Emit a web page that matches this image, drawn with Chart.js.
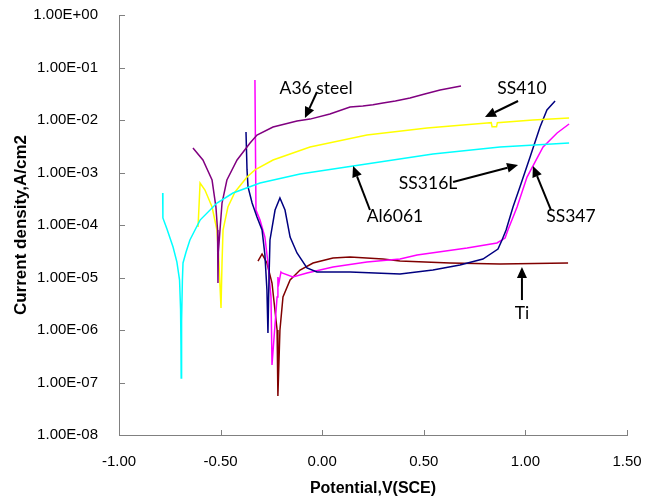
<!DOCTYPE html>
<html>
<head>
<meta charset="utf-8">
<script src="https://cdn.jsdelivr.net/npm/chart.js@4.4.1/dist/chart.umd.min.js"></script>
<style>
  body { margin: 0; background: #fff; }
  #grafico { display: block; }
</style>
</head>
<body>
<canvas id="grafico" width="646" height="500"></canvas>
<script>
// Ejes
const xTicks = [-1, -0.5, 0, 0.5, 1, 1.5];
const yTicks = [1e-8, 1e-7, 1e-6, 1e-5, 1e-4, 1e-3, 1e-2, 1e-1, 1];

// Curvas de polarizacion: potencial (V vs SCE) y densidad de corriente (A/cm2)
const al6061V = [-0.785, -0.784, -0.764, -0.734, -0.715, -0.702, -0.697, -0.695, -0.694, -0.692, -0.688, -0.685, -0.670, -0.651, -0.626, -0.601, -0.518, -0.439, -0.306, -0.109, 0.152, 0.545, 0.875, 1.215];
const al6061I = [4.07e-4, 1.36e-4, 8.4e-5, 3.81e-5, 1.97e-5, 8.95e-6, 2.5e-6, 5.0e-7, 1.22e-7, 1.5e-6, 8.95e-6, 1.89e-5, 3.06e-5, 5.18e-5, 8.04e-5, 1.24e-4, 2.62e-4, 4.07e-4, 6.31e-4, 9.35e-4, 1.33e-3, 2.25e-3, 3.06e-3, 3.65e-3];

const a36V = [-0.636, -0.587, -0.542, -0.523, -0.515, -0.513, -0.511, -0.503, -0.493, -0.469, -0.419, -0.355, -0.321, -0.242, -0.124, -0.060, 0.038, 0.137, 0.20, 0.25, 0.299, 0.36, 0.432, 0.50, 0.580, 0.683];
const a36I = [2.93e-3, 1.73e-3, 7.19e-4, 2.20e-4, 8.04e-5, 7.85e-6, 3.0e-5, 8.04e-5, 2.62e-4, 7.19e-4, 1.73e-3, 3.65e-3, 5.18e-3, 7.36e-3, 9.57e-3, 1.04e-2, 1.30e-2, 1.77e-2, 1.85e-2, 1.95e-2, 2.11e-2, 2.3e-2, 2.62e-2, 3.1e-2, 3.72e-2, 4.45e-2];

const ss410V = [-0.611, -0.601, -0.577, -0.542, -0.518, -0.508, -0.498, -0.493, -0.488, -0.464, -0.429, -0.370, -0.331, -0.242, -0.060, 0.220, 0.516, 0.811, 0.832, 0.836, 0.858, 0.862, 1.037, 1.215];
const ss410I = [9.16e-5, 6.31e-4, 4.64e-4, 2.20e-4, 8.04e-5, 1.89e-5, 2.62e-6, 1.89e-5, 8.04e-5, 2.20e-4, 4.25e-4, 8.20e-4, 1.12e-3, 1.73e-3, 3.06e-3, 5.18e-3, 7.05e-3, 8.77e-3, 8.9e-3, 7.4e-3, 7.4e-3, 8.9e-3, 1.0e-2, 1.09e-2];

const ss316lV = [-0.375, -0.370, -0.365, -0.345, -0.321, -0.296, -0.282, -0.272, -0.267, -0.262, -0.257, -0.232, -0.208, -0.183, -0.158, -0.124, -0.075, -0.026, 0.137, 0.383, 0.545, 0.678, 0.791, 0.865, 0.885, 0.905, 0.939, 0.973, 1.023, 1.072, 1.106, 1.146];
const ss316lI = [5.90e-3, 1.12e-3, 5.30e-4, 2.62e-4, 1.42e-4, 8.04e-5, 2.69e-5, 5.78e-6, 8.77e-7, 8.95e-6, 5.18e-5, 1.93e-4, 3.27e-4, 1.93e-4, 5.9e-5, 2.93e-5, 1.52e-5, 1.27e-5, 1.27e-5, 1.17e-5, 1.39e-5, 1.73e-5, 2.25e-5, 3.49e-5, 5.18e-5, 8.04e-5, 2.20e-4, 5.30e-4, 1.97e-3, 7.36e-3, 1.55e-2, 2.30e-2];

const ss347V = [-0.331, -0.326, -0.306, -0.282, -0.267, -0.252, -0.247, -0.222, -0.218, -0.213, -0.203, -0.198, -0.144, -0.075, 0.053, 0.220, 0.383, 0.467, 0.713, 0.860, 0.900, 0.914, 0.959, 1.008, 1.087, 1.156, 1.215];
const ss347I = [5.78e-2, 1.93e-4, 1.24e-4, 5.9e-5, 1.89e-5, 4.26e-6, 2.15e-7, 4.26e-6, 1.02e-5, 7.85e-6, 1.27e-5, 1.22e-5, 1.02e-5, 1.22e-5, 1.58e-5, 1.97e-5, 2.25e-5, 2.69e-5, 3.65e-5, 4.54e-5, 5.65e-5, 8.04e-5, 2.20e-4, 8.20e-4, 3.06e-3, 5.65e-3, 8.39e-3];

const tiV = [-0.316, -0.296, -0.272, -0.247, -0.222, -0.218, -0.208, -0.193, -0.158, -0.109, -0.045, 0.053, 0.137, 0.299, 0.383, 0.629, 0.875, 1.210];
const tiI = [2.06e-5, 2.81e-5, 1.89e-5, 7.85e-6, 1.0e-6, 5.53e-8, 1.0e-6, 4.26e-6, 8.95e-6, 1.39e-5, 1.89e-5, 2.35e-5, 2.45e-5, 2.25e-5, 2.06e-5, 1.89e-5, 1.81e-5, 1.89e-5];

// Etiquetas con flecha (en unidades de los ejes)
const etiquetas = ['A36 steel', 'SS410', 'SS316L', 'Al6061', 'SS347', 'Ti'];
const textoV = [-0.030, 0.983, 0.521, 0.358, 1.224, 0.983];
const textoI = [4.07e-2, 4.07e-2, 6.31e-4, 1.48e-4, 1.48e-4, 2.11e-6];
const desdeV = [-0.026, 0.964, 0.644, 0.235, 1.126, 0.983];
const desdeI = [3.41e-2, 2.30e-2, 6.61e-4, 1.93e-4, 1.93e-4, 3.72e-6];
const hastaV = [-0.085, 0.801, 0.964, 0.152, 1.037, 0.983];
const hastaI = [1.09e-2, 1.14e-2, 1.39e-3, 1.33e-3, 1.33e-3, 1.58e-5];

function puntos(xs, ys) {
  return xs.map((x, i) => ({ x: x, y: ys[i] }));
}

function serie(nombre, xs, ys, color) {
  return {
    label: nombre,
    data: puntos(xs, ys),
    showLine: true,
    borderColor: color,
    backgroundColor: color,
    borderWidth: 1.5,
    pointRadius: 0,
    tension: 0
  };
}

function formatoE(v) {
  const e = Math.round(Math.log10(v));
  return '1.00E' + (e < 0 ? '-' : '+') + String(Math.abs(e)).padStart(2, '0');
}

// sin relleno extra por las etiquetas de los extremos
function sinRelleno(s) {
  s.paddingTop = 0;
  s.paddingBottom = 0;
  s.paddingLeft = 0;
  s.paddingRight = 0;
}

// marcas hacia dentro en los ejes
const marcasInternas = {
  id: 'marcasInternas',
  afterDraw(chart) {
    const { ctx, chartArea: a, scales: { x, y } } = chart;
    ctx.save();
    ctx.strokeStyle = '#808080';
    ctx.lineWidth = 1;
    ctx.beginPath();
    xTicks.forEach(v => {
      const px = Math.round(x.getPixelForValue(v)) + 0.5;
      ctx.moveTo(px, a.bottom);
      ctx.lineTo(px, a.bottom - 5);
    });
    yTicks.forEach(v => {
      const py = Math.round(y.getPixelForValue(v)) + 0.5;
      ctx.moveTo(a.left, py);
      ctx.lineTo(a.left + 6, py);
    });
    ctx.stroke();
    ctx.restore();
  }
};

// textos y flechas
const anotaciones = {
  id: 'anotaciones',
  afterDraw(chart) {
    const { ctx, scales: { x, y } } = chart;
    ctx.save();
    ctx.fillStyle = '#000';
    ctx.strokeStyle = '#000';
    ctx.lineWidth = 2;
    etiquetas.forEach((txt, i) => {
      const x0 = x.getPixelForValue(desdeV[i]), y0 = y.getPixelForValue(desdeI[i]);
      const x1 = x.getPixelForValue(hastaV[i]), y1 = y.getPixelForValue(hastaI[i]);
      const ang = Math.atan2(y1 - y0, x1 - x0);
      const largo = 11, ancho = 5;
      const bx = x1 - largo * Math.cos(ang), by = y1 - largo * Math.sin(ang);
      ctx.beginPath();
      ctx.moveTo(x0, y0);
      ctx.lineTo(bx, by);
      ctx.stroke();
      ctx.beginPath();
      ctx.moveTo(x1, y1);
      ctx.lineTo(bx + ancho * Math.sin(ang), by - ancho * Math.cos(ang));
      ctx.lineTo(bx - ancho * Math.sin(ang), by + ancho * Math.cos(ang));
      ctx.closePath();
      ctx.fill();

      ctx.font = '17.5px Lato, "Open Sans", sans-serif';
      ctx.textAlign = 'center';
      ctx.textBaseline = 'middle';
      ctx.fillText(txt, x.getPixelForValue(textoV[i]), y.getPixelForValue(textoI[i]));
    });
    ctx.restore();
  }
};

const ctx = document.getElementById('grafico').getContext('2d');
new Chart(ctx, {
  type: 'scatter',
  data: {
    datasets: [
      serie('Al6061', al6061V, al6061I, '#00FFFF'),
      serie('A36 steel', a36V, a36I, '#800080'),
      serie('SS410', ss410V, ss410I, '#FFFF00'),
      serie('SS316L', ss316lV, ss316lI, '#000080'),
      serie('SS347', ss347V, ss347I, '#FF00FF'),
      serie('Ti', tiV, tiI, '#800000')
    ]
  },
  options: {
    responsive: false,
    animation: false,
    layout: { padding: { left: 0, right: 19, top: 15, bottom: 0 } },
    plugins: {
      legend: { display: false },
      tooltip: { enabled: false }
    },
    scales: {
      x: {
        type: 'linear',
        min: -1,
        max: 1.5,
        afterBuildTicks: s => { s.ticks = xTicks.map(v => ({ value: v })); },
        afterFit: s => { s.height = 65; sinRelleno(s); },
        grid: { display: false },
        border: { display: true, color: '#808080', width: 1 },
        ticks: {
          autoSkip: false,
          maxRotation: 0,
          color: '#000',
          padding: 10,
          font: { family: 'Arial, "Liberation Sans"', size: 15 },
          callback: v => v.toFixed(2)
        },
        title: {
          display: true,
          text: 'Potential,V(SCE)',
          color: '#000',
          padding: { top: 0, bottom: 2 },
          font: { family: 'Arial, "Liberation Sans"', size: 16, weight: 'bold' }
        }
      },
      y: {
        type: 'logarithmic',
        min: 1e-8,
        max: 1,
        afterBuildTicks: s => { s.ticks = yTicks.map(v => ({ value: v })); },
        afterFit: s => { s.width = 119; sinRelleno(s); },
        grid: { display: false },
        border: { display: true, color: '#808080', width: 1 },
        ticks: {
          autoSkip: false,
          color: '#000',
          padding: 13,
          font: { family: 'Arial, "Liberation Sans"', size: 15 },
          callback: v => formatoE(v)
        },
        title: {
          display: true,
          text: 'Current density,A/cm2',
          color: '#000',
          padding: { top: 11, bottom: 0 },
          font: { family: 'Arial, "Liberation Sans"', size: 17, weight: 'bold' }
        }
      }
    }
  },
  plugins: [marcasInternas, anotaciones]
});
</script>
</body>
</html>
